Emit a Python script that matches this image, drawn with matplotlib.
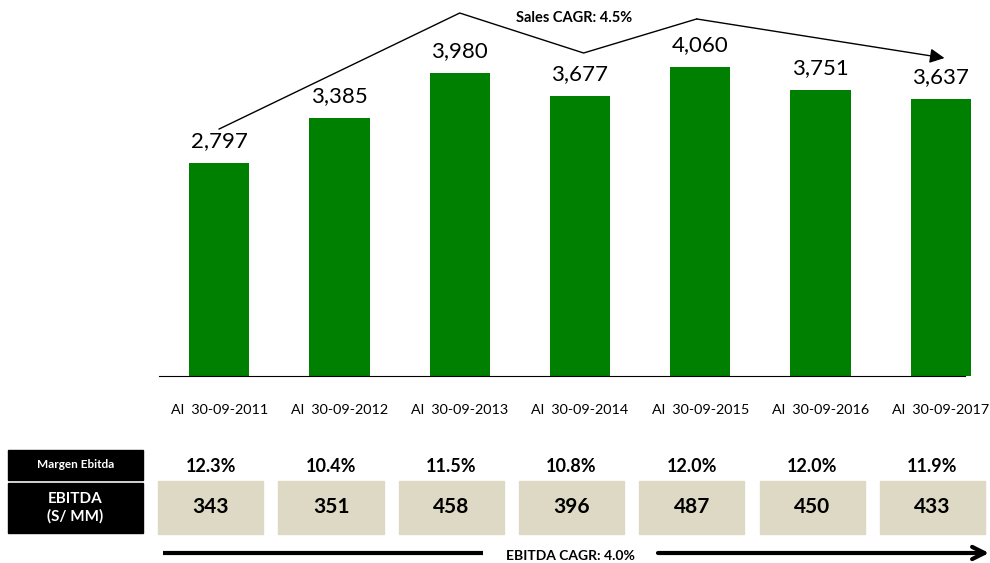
import matplotlib.pyplot as plt
from matplotlib.patches import Rectangle

# data
years = ['Al  30-09-2011', 'Al  30-09-2012', 'Al  30-09-2013', 'Al  30-09-2014',
         'Al  30-09-2015', 'Al  30-09-2016', 'Al  30-09-2017']
sales = [2797, 3385, 3980, 3677, 4060, 3751, 3637]
margin = ['12.3%', '10.4%', '11.5%', '10.8%', '12.0%', '12.0%', '11.9%']
ebitda = [343, 351, 458, 396, 487, 450, 433]

plt.rcParams['font.family'] = ['Lato', 'DejaVu Sans']
W, H = 990, 563
fig = plt.figure(figsize=(W / 100, H / 100), dpi=100)

# main bar chart
ax = fig.add_axes([159 / W, 1 - 376 / H, 842 / W, 376 / H])
x = list(range(len(sales)))
ax.bar(x, sales, width=0.5, color='#008000')
for i, v in enumerate(sales):
    ax.text(i, v + 160, f'{v:,}', ha='center', va='bottom', fontsize=16)
ax.set_xlim(-0.5, 6.5)
ax.set_ylim(0, 4937)
ax.set_yticks([])
ax.set_xticks(x)
ax.set_xticklabels(years, fontsize=10.4)
ax.tick_params(axis='x', length=0, pad=20)
for s in ['top', 'right', 'left']:
    ax.spines[s].set_visible(False)
ax.spines['bottom'].set_color('black')
ax.spines['bottom'].set_bounds(-0.5, 6.2)

# sales CAGR path
px = [0, 2, 3.03, 3.97]
py = [3243, 4766, 4241, 4688]
ax.plot(px, py, color='black', lw=1, clip_on=False)
ax.annotate('', xy=(6.03, 4175), xytext=(3.97, 4688),
            arrowprops=dict(arrowstyle='-|>', color='black', lw=1,
                            mutation_scale=22, shrinkA=0, shrinkB=0),
            annotation_clip=False)
ax.text(2.95, 4700, 'Sales CAGR: 4.5%', ha='center', va='center',
        fontsize=10.5, fontweight='bold')

# bottom table, in category units
tb = fig.add_axes([159 / W, 0, 842 / W, 123 / H])
tb.set_xlim(-0.5, 6.5)
tb.set_ylim(123, 0)
tb.axis('off')
for i in x:
    cx = i - 0.07
    tb.add_patch(Rectangle((cx - 0.437, 41), 0.874, 53, color='#DDD9C4', clip_on=False))
    tb.text(cx, 67, str(ebitda[i]), ha='center', va='center', fontsize=15, fontweight='bold')
    tb.text(cx, 26, margin[i], ha='center', va='center', fontsize=13, fontweight='bold')

# overlay for row headers and EBITDA arrow (pixel coords)
ov = fig.add_axes([0, 0, 1, 1])
ov.set_xlim(0, W)
ov.set_ylim(H, 0)
ov.axis('off')
ov.add_patch(Rectangle((8, 450), 135, 30, color='black'))
ov.add_patch(Rectangle((8, 483), 135, 50, color='black'))
ov.text(75.5, 465, 'Margen Ebitda', color='white', ha='center', va='center',
        fontsize=8.5, fontweight='bold')
ov.text(75.5, 508, 'EBITDA\n(S/ MM)', color='white', ha='center', va='center',
        fontsize=11, fontweight='bold', linespacing=1.3)
ov.plot([163, 483], [553, 553], color='black', lw=3, solid_capstyle='butt')
ov.annotate('', xy=(989, 553), xytext=(658, 553),
            arrowprops=dict(arrowstyle='->', color='black', lw=3,
                            mutation_scale=22, shrinkA=0, shrinkB=0))
ov.text(570, 556, 'EBITDA CAGR: 4.0%', ha='center', va='center',
        fontsize=10, fontweight='bold')

fig.savefig('out.png', dpi=100)
